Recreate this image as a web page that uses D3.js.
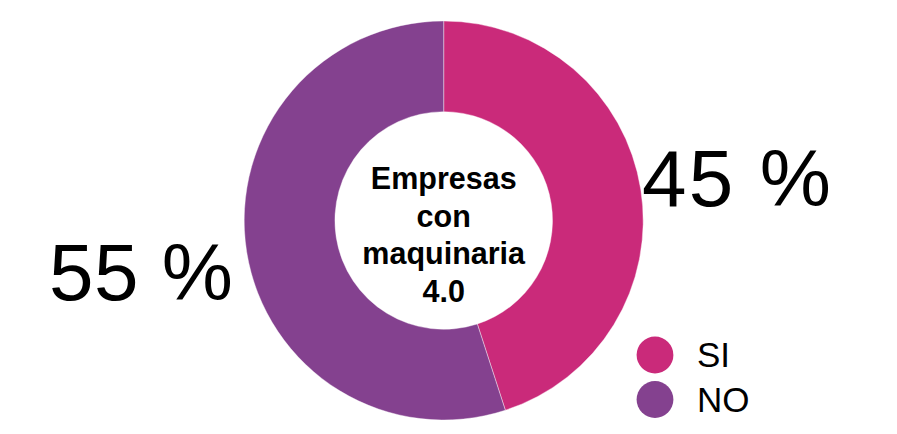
<!DOCTYPE html>
<html>
<head>
<meta charset="utf-8">
<script src="https://cdn.jsdelivr.net/npm/d3@7"></script>
<style>
  html, body { margin: 0; padding: 0; background: #fff; }
  svg { display: block; }
</style>
</head>
<body>
<svg id="chart" width="897" height="434"></svg>
<script>
const categories = ["SI", "NO"];
const values = [45, 55];
const labels = ["45 %", "55 %"];
const colors = ["#CA2A7A", "#84418F"];
const centerLines = ["Empresas", "con", "maquinaria", "4.0"];

const svg = d3.select("#chart");
const cx = 443.7, cy = 220.5, outerR = 199.5, innerR = 108.8;

const pie = d3.pie().sort(null).value(d => d)(values);
const arc = d3.arc().innerRadius(innerR).outerRadius(outerR);
const color = d3.scaleOrdinal().domain(categories).range(colors);

const g = svg.append("g").attr("transform", `translate(${cx},${cy})`);
g.selectAll("path").data(pie).join("path")
  .attr("d", arc)
  .attr("fill", (d, i) => color(categories[i]))
  .attr("stroke", "#fff")
  .attr("stroke-width", 0.4);

// center text
const ct = g.append("text")
  .attr("text-anchor", "middle")
  .attr("font-family", "Liberation Sans, Arial, sans-serif")
  .attr("font-weight", "bold")
  .attr("font-size", 30.5)
  .attr("fill", "#000");
centerLines.forEach((t, i) => {
  ct.append("tspan").attr("x", 0).attr("y", 189.3 - cy + i * 37.4).text(t);
});

// percentage labels
svg.append("text")
  .attr("x", 642).attr("y", 206)
  .attr("font-family", "Liberation Sans, Arial, sans-serif")
  .attr("font-size", 80)
  .attr("textLength", 189)
  .attr("fill", "#000")
  .text(labels[0]);
svg.append("text")
  .attr("x", 49).attr("y", 300)
  .attr("font-family", "Liberation Sans, Arial, sans-serif")
  .attr("font-size", 80)
  .attr("textLength", 184)
  .attr("fill", "#000")
  .text(labels[1]);

// legend
const legend = svg.append("g").attr("transform", "translate(655,355)");
const items = legend.selectAll("g").data(categories).join("g")
  .attr("transform", (d, i) => `translate(0,${i * 44.5})`);
items.append("circle").attr("r", 18.4).attr("fill", d => color(d));
items.append("text")
  .attr("x", 42).attr("y", 12)
  .attr("font-family", "Liberation Sans, Arial, sans-serif")
  .attr("font-size", 35)
  .attr("fill", "#000")
  .text(d => d);
</script>
</body>
</html>
